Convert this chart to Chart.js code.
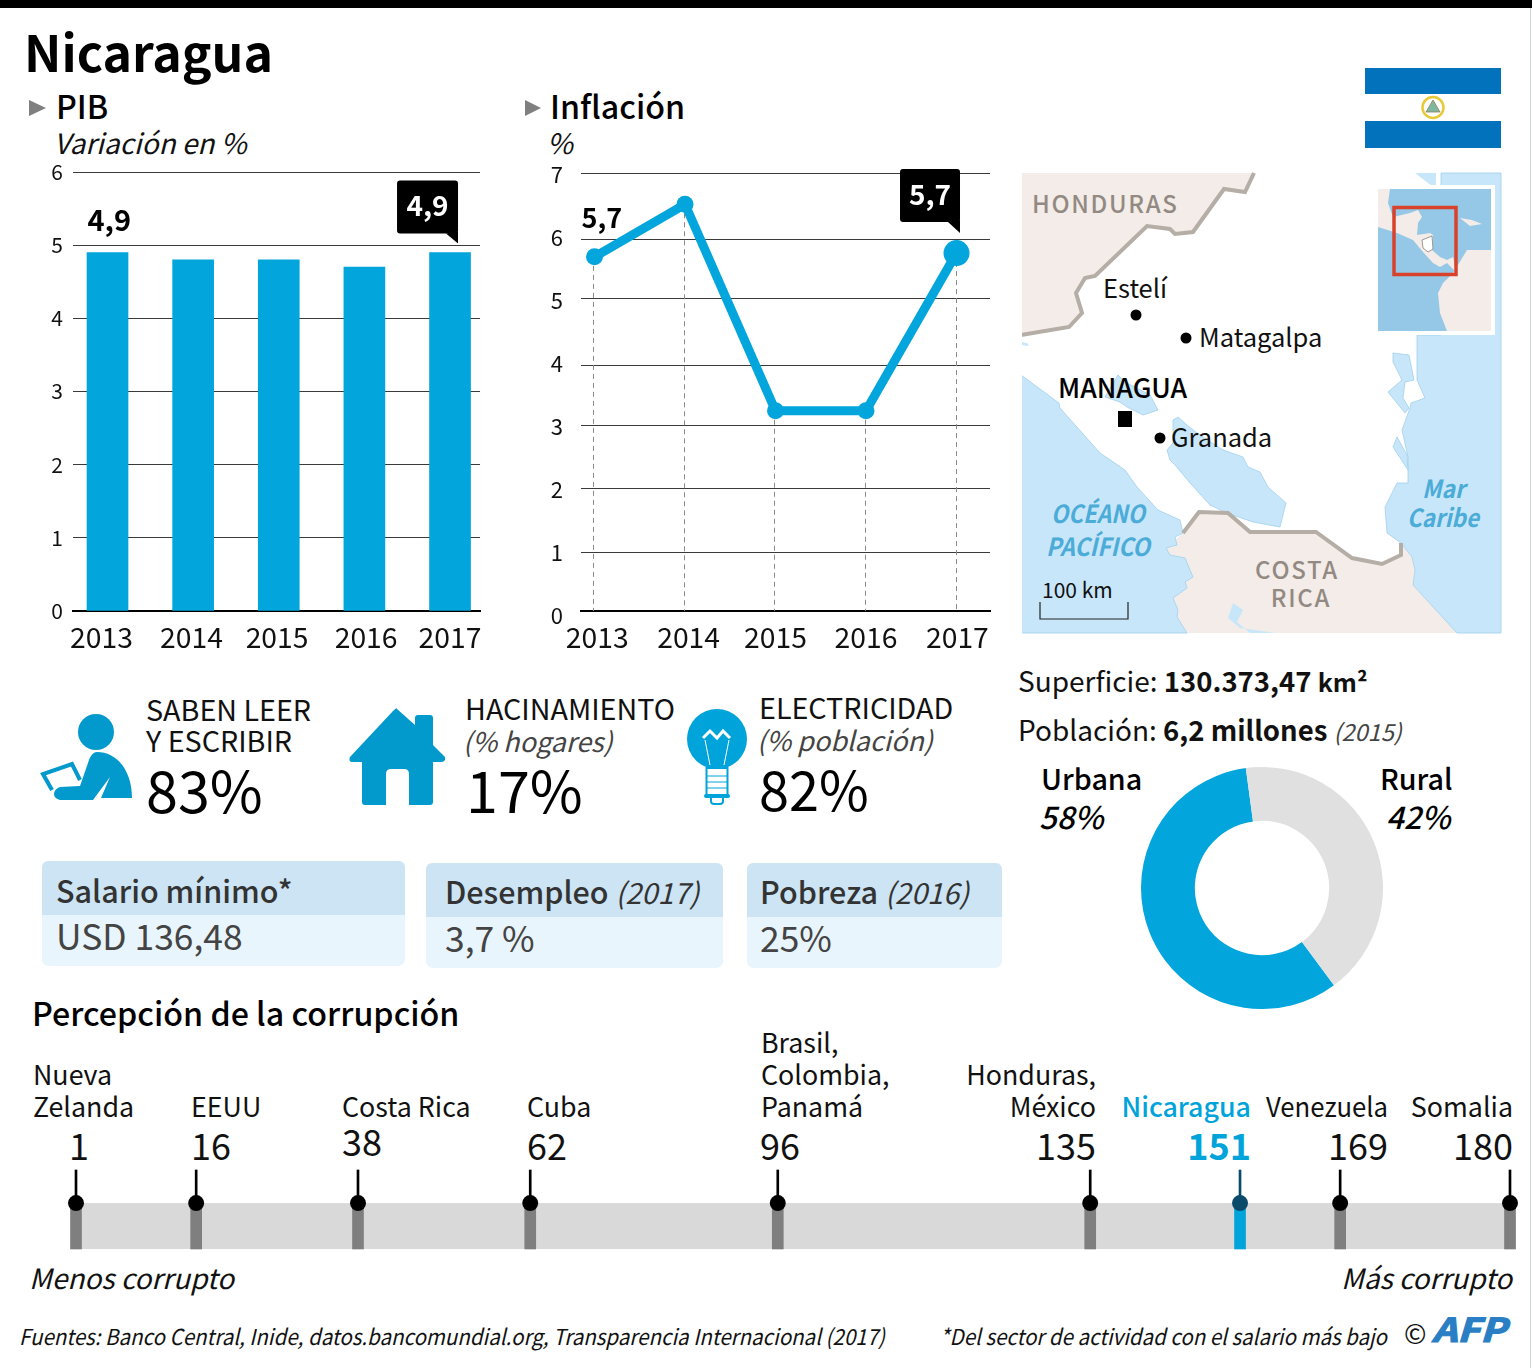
<!DOCTYPE html>
<html lang="es">
<head>
<meta charset="utf-8">
<title>Nicaragua</title>
<script src="https://cdn.jsdelivr.net/npm/chart.js@4"></script>
<style>
  html, body { margin: 0; padding: 0; background: #fff; }
  #page { position: relative; width: 1532px; height: 1368px; overflow: hidden; background: #fff; }
  #page svg { position: absolute; left: 0; top: 0; }
  #page canvas { position: absolute; }
  text { font-family: "Noto Sans CJK SC", "Noto Sans", sans-serif; fill: #111; }
  .title { font-size: 50px; font-weight: 700; fill: #000; }
  .head { font-size: 32.2px; font-weight: 500; fill: #000; }
  .sub { font-size: 28px; font-style: italic; }
  .city { font-size: 25.5px; }
  .capital { font-size: 26.7px; font-weight: 500; fill: #000; }
  .country { font-size: 24px; font-weight: 500; fill: #928a82; letter-spacing: 1.7px; }
  .sea { font-size: 25px; font-weight: 700; font-style: italic; fill: #4bacd8; }
  .stat { font-size: 28px; }
  .donut { font-size: 28.7px; font-weight: 500; fill: #000; }
  .donutv { font-size: 31px; font-weight: 500; font-style: italic; fill: #000; }
  .kpi { font-size: 28.7px; }
  .kpis { font-size: 27px; font-style: italic; fill: #444; }
  .kpiv { font-size: 57.5px; fill: #000; }
  .boxh { font-size: 30.5px; font-weight: 500; fill: #333; }
  .boxi { font-size: 29px; font-style: italic; font-weight: 400; fill: #333; }
  .boxv { font-size: 35.4px; fill: #444; }
  .name { font-size: 26.8px; }
  .rank { font-size: 36px; }
  .foot { font-size: 22px; font-style: italic; }
</style>
</head>
<body>
<div id="page">
<svg width="1532" height="1368" viewBox="0 0 1532 1368">
  <!-- frame -->
  <rect x="0" y="0" width="1532" height="8" fill="#000"/>
  <line x1="1530.5" y1="8" x2="1530.5" y2="1368" stroke="#cfd8d8" stroke-width="1"/>

  <text class="title" x="24" y="72">Nicaragua</text>

  <!-- section headers -->
  <polygon points="29,100 46,108 29,116" fill="#7f7f7f"/>
  <text class="head" x="56" y="119">PIB</text>
  <text class="sub" x="54" y="154">Variación en %</text>
  <polygon points="525,100 541,108 525,116" fill="#7f7f7f"/>
  <text class="head" x="550" y="119">Inflación</text>
  <text class="sub" x="547" y="154">%</text>

  <!-- flag -->
  <rect x="1365" y="68" width="136" height="26" fill="#0272bd"/>
  <rect x="1365" y="121" width="136" height="27" fill="#0272bd"/>
  <circle cx="1433" cy="107.5" r="10.5" fill="#fff" stroke="#e8c93a" stroke-width="2.5"/>
  <polygon points="1433,100 1440,112 1426,112" fill="#7fb7a0" stroke="#8a7f5a" stroke-width="0.8"/>

  <!-- map -->
  <rect x="1021" y="173" width="480" height="460" fill="#fff"/>
  <polygon points="1021,173 1254,173 1245,192 1224,189 1193,232 1175,234 1170,229 1147,226 1095,276 1085,278 1076,293 1082,313 1069,327 1021,335" fill="#f3ece8"/>
  <polyline points="1254,173 1245,192 1224,189 1193,232 1175,234 1170,229 1147,226 1095,276 1085,278 1076,293 1082,313 1069,327 1021,335" fill="none" stroke="#b5aea6" stroke-width="4"/>
  <polygon points="1021,342 1027,343 1029,346 1021,345" fill="#c8e6fa"/>
  <!-- Costa Rica -->
  <polygon points="1183,533 1199,512 1228,513 1250,532 1316,532 1352,558 1382,564 1401,555 1401,543 1412,557 1415,570 1413,585 1457,633 1187,633 1165,600 1166,548" fill="#f3ece8"/>
  <!-- Pacific -->
  <polygon points="1021,375 1059,403 1060,408 1100,453 1125,470 1137,487 1158,510 1180,520 1183,533 1175,537 1177,545 1166,548 1170,555 1185,558 1190,570 1193,577 1185,582 1187,588 1173,598 1178,610 1177,617 1187,633 1021,633" fill="#c8e6fa" stroke="#9fd0ee" stroke-width="0.8"/>
  <polygon points="1233,603 1243,610 1237,622 1250,633 1275,633 1240,628 1228,618" fill="#c8e6fa"/>
  <!-- Caribbean -->
  <polygon points="1417,335 1417,380 1425,398 1411,403 1410,408 1402,430 1408,457 1408,483 1397,483 1385,507 1387,533 1401,543 1412,557 1415,570 1413,585 1457,633 1501,633 1501,173 1441,173 1441,335" fill="#c8e6fa" stroke="#9fd0ee" stroke-width="0.8"/>
  <polygon points="1415,173 1436,173 1436,186 1432,186" fill="#c8e6fa"/>
  <polygon points="1393,353 1409,355 1414,380 1405,382 1403,398 1409,408 1405,413 1388,392 1402,380 1393,362" fill="#c8e6fa" stroke="#9fd0ee" stroke-width="0.8"/>
  <polygon points="1397,437 1393,447 1408,470 1407,455" fill="#c8e6fa" stroke="#9fd0ee" stroke-width="0.8"/>
  <!-- lakes -->
  <polygon points="1105,397 1118,375 1125,382 1150,395 1158,410 1143,415 1127,407 1120,402" fill="#c8e6fa" stroke="#9fd0ee" stroke-width="0.8"/>
  <polygon points="1173,420 1178,417 1187,425 1197,433 1223,450 1243,457 1248,467 1260,472 1268,487 1286,503 1280,527 1253,522 1227,513 1210,505 1190,483 1175,465 1170,460 1167,450 1173,443" fill="#c8e6fa" stroke="#9fd0ee" stroke-width="0.8"/>
  <polyline points="1183,533 1199,512 1228,513 1250,532 1316,532 1352,558 1382,564 1401,555 1401,543" fill="none" stroke="#b5aea6" stroke-width="4"/>
  <rect x="1018" y="170" width="4" height="466" fill="#fff"/>

  <text class="country" x="1032" y="213">HONDURAS</text>
  <text class="country" x="1297" y="579" text-anchor="middle">COSTA</text>
  <text class="country" x="1301" y="607" text-anchor="middle">RICA</text>
  <text class="sea" x="1051" y="523" textLength="94" lengthAdjust="spacingAndGlyphs">OCÉANO</text>
  <text class="sea" x="1046" y="556" textLength="104" lengthAdjust="spacingAndGlyphs">PACÍFICO</text>
  <text class="sea" x="1422" y="498" textLength="43" lengthAdjust="spacingAndGlyphs">Mar</text>
  <text class="sea" x="1407" y="527" textLength="72" lengthAdjust="spacingAndGlyphs">Caribe</text>
  <text x="1042" y="598" style="font-size:21px">100 km</text>
  <polyline points="1040,602 1040,619 1128,619 1128,602" fill="none" stroke="#222" stroke-width="1.2"/>

  <circle cx="1136" cy="315" r="5.5" fill="#000"/>
  <text class="city" x="1103" y="298">Estelí</text>
  <circle cx="1186" cy="338" r="5.5" fill="#000"/>
  <text class="city" x="1199" y="347">Matagalpa</text>
  <rect x="1118" y="411" width="14" height="16" fill="#000"/>
  <text class="capital" x="1058" y="398">MANAGUA</text>
  <circle cx="1160" cy="438" r="5.5" fill="#000"/>
  <text class="city" x="1171" y="447">Granada</text>

  <!-- locator inset -->
  <rect x="1374" y="185" width="121" height="150" fill="#fff"/>
  <rect x="1378" y="189" width="113" height="142" fill="#95c8e6"/>
  <polygon points="1378,189 1390,189 1388,203 1393,217 1410,213 1418,210 1422,217 1418,223 1417,235 1430,233 1433,235 1432,250 1440,257 1447,260 1453,257 1457,273 1447,263 1440,267 1433,263 1423,252 1413,240 1397,233 1378,227" fill="#f3ece8"/>
  <polygon points="1453,273 1467,250 1491,250 1491,331 1447,331 1440,313 1438,293 1443,283" fill="#f3ece8"/>
  <polygon points="1460,218 1472,220 1482,224 1470,226" fill="#f3ece8"/>
  <polygon points="1422,240 1432,236 1433,249 1428,252 1423,248" fill="#fff" stroke="#8a7f78" stroke-width="0.8"/>
  <rect x="1394" y="207.5" width="62" height="67" fill="none" stroke="#d8412a" stroke-width="3.5"/>

  <!-- stats -->
  <text class="stat" x="1018" y="692">Superficie: <tspan font-weight="700" style="font-size:27.5px">130.373,47 <tspan style="font-size:25px">km²</tspan></tspan></text>
  <text class="stat" x="1018" y="741">Población: <tspan font-weight="700" style="font-size:27.5px">6,2 millones</tspan> <tspan font-style="italic" style="font-size:23.5px" fill="#444">(2015)</tspan></text>
  <text class="donut" x="1041" y="790">Urbana</text>
  <text class="donutv" x="1039" y="829">58%</text>
  <text class="donut" x="1380" y="790">Rural</text>
  <text class="donutv" x="1386" y="829">42%</text>

  <!-- reader icon -->
  <g fill="#0299cc">
    <circle cx="96" cy="732" r="18"/>
    <path d="M97,752 C118,752 132,772 132,798 L101,798 L110,777 L93,800 L60,800 C52,798 52,790 60,787 L80,786 L88,763 C90,756 93,752 97,752 Z"/>
  </g>
  <polyline points="52,790 43,774 72,764 80,780" fill="none" stroke="#0299cc" stroke-width="4"/>
  <text class="kpi" x="146" y="721">SABEN LEER</text>
  <text class="kpi" x="146" y="752">Y ESCRIBIR</text>
  <text class="kpiv" x="146" y="813">83%</text>

  <!-- house icon -->
  <path d="M397,709 L415,725 L415,718 Q415,715 418,715 L430,715 Q433,715 433,718 L433,745 L445,757 Q446,762 441,762 L433,762 L433,802 Q433,805 430,805 L409,805 L409,774 Q409,769 404,769 L391,769 Q386,769 386,774 L386,805 L365,805 Q362,805 362,802 L362,762 L353,762 Q348,762 350,757 L393,711 Q397,707 397,709 Z" fill="#0299cc"/>
  <text class="kpi" x="465" y="720">HACINAMIENTO</text>
  <text class="kpis" x="463" y="752">(% hogares)</text>
  <text class="kpiv" x="466" y="813">17%</text>

  <!-- bulb icon -->
  <circle cx="717" cy="739" r="30" fill="#00a3da"/>
  <polyline points="703,738 710,731 717,738 723,731 730,738" fill="none" stroke="#fff" stroke-width="3"/>
  <line x1="705" y1="740" x2="710" y2="765" stroke="#fff" stroke-width="1"/>
  <line x1="729" y1="740" x2="724" y2="765" stroke="#fff" stroke-width="1"/>
  <rect x="706.5" y="768" width="21" height="27" fill="#fff" stroke="#00a3da" stroke-width="2"/>
  <line x1="707" y1="776" x2="727" y2="776" stroke="#00a3da" stroke-width="1"/>
  <line x1="707" y1="782" x2="727" y2="782" stroke="#00a3da" stroke-width="1"/>
  <line x1="707" y1="788" x2="727" y2="788" stroke="#00a3da" stroke-width="1"/>
  <rect x="704" y="794" width="26" height="4" rx="2" fill="#00a3da"/>
  <path d="M711,798 L711,801 Q711,804 714,804 L720,804 Q723,804 723,801 L723,798" fill="#fff" stroke="#00a3da" stroke-width="2"/>
  <text class="kpi" x="759" y="719">ELECTRICIDAD</text>
  <text class="kpis" x="757" y="751">(% población)</text>
  <text class="kpiv" x="759" y="811" style="font-size:54px">82%</text>

  <!-- boxes -->
  <rect x="42" y="861" width="363" height="105" rx="7" fill="#e9f5fc"/>
  <path d="M42,915 L42,868 Q42,861 49,861 L398,861 Q405,861 405,868 L405,915 Z" fill="#cce4f3"/>
  <text class="boxh" x="56" y="903">Salario mínimo*</text>
  <text class="boxv" x="56" y="950">USD 136,48</text>
  <rect x="426" y="863" width="297" height="105" rx="7" fill="#e9f5fc"/>
  <path d="M426,917 L426,870 Q426,863 433,863 L716,863 Q723,863 723,870 L723,917 Z" fill="#cce4f3"/>
  <text class="boxh" x="445" y="904">Desempleo <tspan class="boxi">(2017)</tspan></text>
  <text class="boxv" x="445" y="952">3,7 %</text>
  <rect x="747" y="863" width="255" height="105" rx="7" fill="#e9f5fc"/>
  <path d="M747,917 L747,870 Q747,863 754,863 L995,863 Q1002,863 1002,870 L1002,917 Z" fill="#cce4f3"/>
  <text class="boxh" x="760" y="904">Pobreza <tspan class="boxi">(2016)</tspan></text>
  <text class="boxv" x="760" y="952">25%</text>

  <!-- corruption strip texts -->
  <text class="head" x="32" y="1026">Percepción de la corrupción</text>
  <text class="name" x="33" y="1085">Nueva</text>
  <text class="name" x="33" y="1117">Zelanda</text>
  <text class="rank" x="69" y="1160">1</text>
  <text class="name" x="191" y="1117">EEUU</text>
  <text class="rank" x="191" y="1160">16</text>
  <text class="name" x="342" y="1117">Costa Rica</text>
  <text class="rank" x="342" y="1156">38</text>
  <text class="name" x="527" y="1117">Cuba</text>
  <text class="rank" x="527" y="1160">62</text>
  <text class="name" x="761" y="1053">Brasil,</text>
  <text class="name" x="761" y="1085">Colombia,</text>
  <text class="name" x="761" y="1117">Panamá</text>
  <text class="rank" x="760" y="1160">96</text>
  <text class="name" x="1096" y="1085" text-anchor="end">Honduras,</text>
  <text class="name" x="1096" y="1117" text-anchor="end">México</text>
  <text class="rank" x="1096" y="1160" text-anchor="end">135</text>
  <text class="name" x="1251" y="1117" text-anchor="end" style="fill:#00a3da;font-weight:500">Nicaragua</text>
  <text class="rank" x="1251" y="1160" text-anchor="end" style="fill:#00a3da;font-weight:700">151</text>
  <text class="name" x="1266" y="1117" textLength="122" lengthAdjust="spacingAndGlyphs">Venezuela</text>
  <text class="rank" x="1388" y="1160" text-anchor="end">169</text>
  <text class="name" x="1513" y="1117" text-anchor="end">Somalia</text>
  <text class="rank" x="1513" y="1160" text-anchor="end">180</text>
  <text class="sub" x="29" y="1289">Menos corrupto</text>
  <text class="sub" x="1512" y="1289" text-anchor="end">Más corrupto</text>

  <!-- footer -->
  <text class="foot" x="19" y="1345" textLength="866" lengthAdjust="spacingAndGlyphs">Fuentes: Banco Central, Inide, datos.bancomundial.org, Transparencia Internacional (2017)</text>
  <text class="foot" x="940" y="1345" textLength="447" lengthAdjust="spacingAndGlyphs">*Del sector de actividad con el salario más bajo</text>
  <text x="1404" y="1344" style="font-size:27px">©</text>
  <text x="1432" y="1342" textLength="74" lengthAdjust="spacingAndGlyphs" style="font-size:33px;font-weight:700;font-style:italic;fill:#2a7fc4;stroke:#2a7fc4;stroke-width:1.2px">AFP</text>
</svg>

<canvas id="pibChart" width="500" height="500" style="left:0;top:160px"></canvas>
<canvas id="inflacionChart" width="500" height="500" style="left:510px;top:160px"></canvas>
<canvas id="poblacionChart" width="242" height="242" style="left:1141px;top:767px"></canvas>
<canvas id="corrupcionChart" width="1532" height="100" style="left:0;top:1160px"></canvas>
</div>

<script>
// ── Data ──────────────────────────────────────────────────
const YEARS = ['2013', '2014', '2015', '2016', '2017'];
const YEAR_VALUES = [2013, 2014, 2015, 2016, 2017];

const PIB_VALUES = [4.9, 4.8, 4.8, 4.7, 4.9];
const PIB_TICKS = [0, 1, 2, 3, 4, 5, 6];

const INFLACION_VALUES = [5.66, 6.5, 3.2, 3.2, 5.72];
const INFLACION_TICKS = [0, 1, 2, 3, 4, 5, 6, 7];
// the reference draws its gridlines unevenly, not on the tick labels
const INFLACION_GRID = [0, 0.93, 1.95, 2.97, 3.93, 4.99, 5.94, 7];

const POBLACION_LABELS = ['Urbana', 'Rural'];
const POBLACION_VALUES = [58, 42];

const CORR_COUNTRIES = ['Nueva Zelanda', 'EEUU', 'Costa Rica', 'Cuba', 'Brasil, Colombia, Panamá',
  'Honduras, México', 'Nicaragua', 'Venezuela', 'Somalia'];
const CORR_RANKS = [1, 16, 38, 62, 96, 135, 151, 169, 180];
// the strip is schematic: where each rank actually sits along the 1–180 bar
const CORR_TRACK = [1, 16, 36.2, 57.7, 88.6, 127.6, 146.3, 158.8, 180];

// ── Shared look ───────────────────────────────────────────
const FONT = '"Noto Sans CJK SC", "Noto Sans", sans-serif';
const BLUE = '#02a5dc';
const GRID = '#3a3a3a';
const BASE = { animation: false, responsive: false, maintainAspectRatio: false, events: [] };
const NO_PLUGINS = { legend: { display: false }, tooltip: { enabled: false } };

// fixed axis box, so the plot area lands where the reference has it
const fixWidth = (w) => (scale) => { scale.width = w; scale.paddingTop = 0; scale.paddingBottom = 0; };
const fixHeight = (h) => (scale) => { scale.height = h; scale.paddingLeft = 0; scale.paddingRight = 0; };
const setTicks = (values) => (scale) => { scale.ticks = values.map(v => ({ value: v })); };

function callout(ctx, x, y, w, h, tipX, tipY, text) {
  ctx.save();
  ctx.fillStyle = '#000';
  ctx.beginPath();
  ctx.roundRect(x, y, w, h, 3);
  ctx.fill();
  ctx.beginPath();
  ctx.moveTo(x + w - 12, y + h);
  ctx.lineTo(tipX, tipY);
  ctx.lineTo(x + w, y + h - 2);
  ctx.fill();
  ctx.fillStyle = '#fff';
  ctx.font = '700 28px ' + FONT;
  ctx.textAlign = 'center';
  ctx.textBaseline = 'alphabetic';
  ctx.fillText(text, x + w / 2, y + 36);
  ctx.restore();
}

function valueText(ctx, x, y, text, size) {
  ctx.save();
  ctx.fillStyle = '#000';
  ctx.font = '700 ' + size + 'px ' + FONT;
  ctx.textBaseline = 'alphabetic';
  ctx.fillText(text, x, y);
  ctx.restore();
}

// ── PIB — bars ────────────────────────────────────────────
new Chart(document.getElementById('pibChart'), {
  type: 'bar',
  data: {
    datasets: [{
      data: YEAR_VALUES.map((y, i) => ({ x: y, y: PIB_VALUES[i] })),
      backgroundColor: BLUE,
      barThickness: 41,
    }]
  },
  options: {
    ...BASE,
    layout: { padding: { top: 12, right: 20 } },
    plugins: NO_PLUGINS,
    scales: {
      x: {
        type: 'linear',
        offset: false,
        min: 2012.597,
        max: 2017.35,
        afterBuildTicks: setTicks([2012.93, 2013.98, 2014.98, 2016.02, 2017]),
        afterFit: fixHeight(49),
        grid: { display: false },
        border: { color: '#000', width: 2 },
        ticks: {
          autoSkip: false, maxRotation: 0, padding: 1, color: '#111',
          font: { family: FONT, size: 28.3 },
          callback: (v, i) => YEARS[i],
        },
      },
      y: {
        min: 0,
        max: 6,
        afterBuildTicks: setTicks(PIB_TICKS),
        afterFit: fixWidth(73),
        border: { display: false },
        grid: { color: GRID, lineWidth: 1, drawTicks: false },
        ticks: {
          padding: 10, color: '#111',
          font: { family: FONT, size: 21 },
          callback: (v) => String(v),
        },
      },
    },
  },
  plugins: [{
    id: 'pibLabels',
    afterDatasetsDraw(chart) {
      const { ctx, scales: { x, y } } = chart;
      const first = x.getPixelForValue(YEAR_VALUES[0]);
      const last = x.getPixelForValue(YEAR_VALUES[4]);
      const topY = y.getPixelForValue(PIB_VALUES[0]);
      valueText(ctx, first - 20, topY - 21, '4,9', 29);
      callout(ctx, last - 53, topY - 72, 61, 53, last + 8, topY - 9, '4,9');
    },
  }],
});

// ── Inflación — line ──────────────────────────────────────
new Chart(document.getElementById('inflacionChart'), {
  type: 'line',
  data: {
    datasets: [{
      data: YEAR_VALUES.map((y, i) => ({ x: y, y: INFLACION_VALUES[i] })),
      borderColor: BLUE,
      borderWidth: 9,
      borderJoinStyle: 'round',
      tension: 0,
      clip: false,
      pointBackgroundColor: BLUE,
      pointBorderWidth: 0,
      pointRadius: [8.5, 8.5, 8.5, 8.5, 13],
    }]
  },
  options: {
    ...BASE,
    layout: { padding: { top: 13, right: 20 } },
    plugins: NO_PLUGINS,
    scales: {
      x: {
        type: 'linear',
        min: 2012.851,
        max: 2017.37,
        afterBuildTicks: setTicks([2013.03, 2014.04, 2015, 2016, 2017.01]),
        afterFit: fixHeight(49),
        grid: { display: false },
        border: { color: '#000', width: 2 },
        ticks: {
          autoSkip: false, maxRotation: 0, padding: 1, color: '#111',
          font: { family: FONT, size: 28.3 },
          callback: (v, i) => YEARS[i],
        },
      },
      // data scale: carries the uneven gridlines, no labels
      y: {
        min: 0,
        max: 7,
        position: 'left',
        afterBuildTicks: setTicks(INFLACION_GRID),
        afterFit: fixWidth(0),
        border: { display: false },
        grid: { color: GRID, lineWidth: 1, drawTicks: false },
        ticks: { display: false },
      },
      // label scale: evenly spaced numbers, as printed
      yLabels: {
        min: 0.079,
        max: 7.03,
        position: 'left',
        afterBuildTicks: setTicks(INFLACION_TICKS),
        afterFit: fixWidth(71),
        border: { display: false },
        grid: { display: false },
        ticks: {
          padding: 10, color: '#111',
          font: { family: FONT, size: 22 },
          callback: (v) => String(v),
        },
      },
    },
  },
  plugins: [{
    id: 'inflacionDrops',
    beforeDatasetsDraw(chart) {
      const { ctx, scales: { x, y } } = chart;
      ctx.save();
      ctx.strokeStyle = '#8a8a8a';
      ctx.lineWidth = 1;
      ctx.setLineDash([5, 4]);
      YEAR_VALUES.forEach((yr, i) => {
        const px = Math.round(x.getPixelForValue(yr)) - 0.5;
        ctx.beginPath();
        ctx.moveTo(px, y.getPixelForValue(INFLACION_VALUES[i]));
        ctx.lineTo(px, y.getPixelForValue(0));
        ctx.stroke();
      });
      ctx.restore();
    },
    afterDatasetsDraw(chart) {
      const { ctx, scales: { x, y } } = chart;
      const first = x.getPixelForValue(YEAR_VALUES[0]);
      const last = x.getPixelForValue(YEAR_VALUES[4]);
      valueText(ctx, first - 13, y.getPixelForValue(INFLACION_VALUES[0]) - 29, '5,7', 27);
      const lastY = y.getPixelForValue(INFLACION_VALUES[4]);
      callout(ctx, last - 56.5, lastY - 84, 60, 53, last + 3.5, lastY - 20, '5,7');
    },
  }],
});

// ── Población — doughnut ──────────────────────────────────
new Chart(document.getElementById('poblacionChart'), {
  type: 'doughnut',
  data: {
    labels: POBLACION_LABELS,
    datasets: [{
      data: POBLACION_VALUES,
      backgroundColor: [BLUE, '#e0e0e0'],
      borderWidth: 0,
    }]
  },
  options: {
    ...BASE,
    rotation: 143.5,
    cutout: '55.5%',
    plugins: NO_PLUGINS,
  },
});

// ── Percepción de la corrupción — strip ───────────────────
const NICA = CORR_COUNTRIES.indexOf('Nicaragua');
const corrPoints = (top, bottom) => CORR_TRACK.map(x => ({ x: x, y: [bottom, top] }));

new Chart(document.getElementById('corrupcionChart'), {
  data: {
    datasets: [
      {
        type: 'scatter',
        data: CORR_TRACK.map(x => ({ x: x, y: 1 })),
        pointRadius: 8,
        pointBorderWidth: 0,
        pointBackgroundColor: CORR_RANKS.map((r, i) => i === NICA ? '#0a4a6b' : '#000'),
        clip: false,
        order: 1,
      },
      {
        type: 'bar',
        data: corrPoints(1.72, 1),
        backgroundColor: CORR_RANKS.map((r, i) => i === NICA ? '#0a4a6b' : '#000'),
        barThickness: 2,
        grouped: false,
        clip: false,
        order: 2,
      },
      {
        type: 'bar',
        data: corrPoints(1, 0),
        backgroundColor: CORR_RANKS.map((r, i) => i === NICA ? '#00a3da' : '#7f7f7f'),
        barThickness: 11,
        grouped: false,
        clip: false,
        order: 3,
      },
    ]
  },
  options: {
    ...BASE,
    layout: { padding: { left: 71, right: 16, top: 10, bottom: 11 } },
    plugins: NO_PLUGINS,
    scales: {
      x: { type: 'linear', display: false, offset: false, min: 0.376, max: 180.75 },
      y: { display: false, min: 0, max: 1.72 },
    },
  },
  plugins: [{
    id: 'corrBand',
    beforeDatasetsDraw(chart) {
      const { ctx, chartArea, scales: { y } } = chart;
      const top = y.getPixelForValue(1);
      ctx.save();
      ctx.fillStyle = '#d9d9d9';
      ctx.fillRect(chartArea.left, top, chartArea.width, y.getPixelForValue(0) - top);
      ctx.restore();
    },
  }],
});
</script>
</body>
</html>
